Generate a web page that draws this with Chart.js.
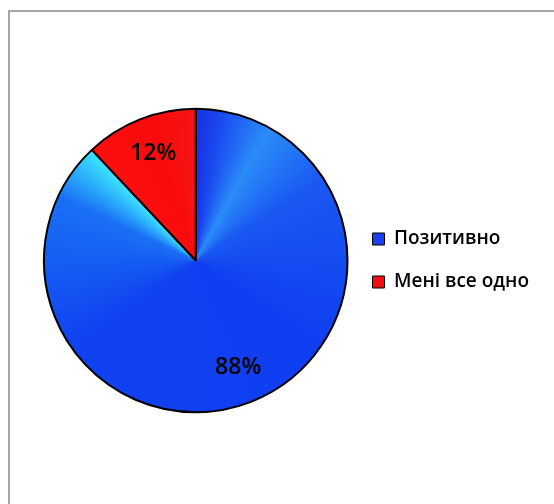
<!DOCTYPE html>
<html>
<head>
    <meta charset="UTF-8">
    <title>Позитивно / Мені все одно</title>
    <script src="https://cdn.jsdelivr.net/npm/chart.js"></script>
    <style>
        html, body { margin: 0; padding: 0; background: #fff; }
        #wrap {
            position: relative;
            width: 554px;
            height: 504px;
        }
        #frame {
            position: absolute;
            left: 8px; top: 10px; right: 0; bottom: 0;
            border-top: 2px solid #a6a6a6;
            border-left: 2px solid #a6a6a6;
            pointer-events: none;
        }
    </style>
</head>
<body>
    <div id="wrap">
        <canvas id="pie" width="554" height="504"></canvas>
        <div id="frame"></div>
    </div>

    <script>
        const labels = ["Позитивно", "Мені все одно"];
        const values = [88, 12];
        const percentLabels = ["88%", "12%"];
        const legendColors = ["#1a3ef0", "#f01010"];

        // заливка секторов с переходом цвета, как в Excel
        function sliceFill(context) {
            const chart = context.chart;
            const area = chart.chartArea;
            if (!area) return legendColors[context.dataIndex];
            const cx = (area.left + area.right) / 2;
            const cy = (area.top + area.bottom) / 2;
            const g = chart.ctx.createConicGradient(-Math.PI / 2, cx, cy);
            if (context.dataIndex === 0) {
                g.addColorStop(0.00, "#1830e6");
                g.addColorStop(0.03, "#1a4cf0");
                g.addColorStop(0.08, "#2a8cf8");
                g.addColorStop(0.16, "#1a58f2");
                g.addColorStop(0.35, "#0f3ef0");
                g.addColorStop(0.65, "#1042f0");
                g.addColorStop(0.82, "#1a70f5");
                g.addColorStop(0.875, "#38dcff");
                g.addColorStop(1.00, "#38dcff");
            } else {
                g.addColorStop(0.00, "#f51515");
                g.addColorStop(0.86, "#ff1010");
                g.addColorStop(0.95, "#fa0a0a");
                g.addColorStop(1.00, "#f51515");
            }
            return g;
        }

        const percentPlugin = {
            id: "percentLabels",
            afterDatasetsDraw(chart) {
                const ctx = chart.ctx;
                const meta = chart.getDatasetMeta(0);
                ctx.save();
                ctx.font = "600 23px 'Open Sans', sans-serif";
                ctx.fillStyle = "#000";
                ctx.textAlign = "center";
                ctx.textBaseline = "middle";
                meta.data.forEach((arc, i) => {
                    const p = arc.getProps(["x", "y", "startAngle", "endAngle", "outerRadius"], true);
                    const mid = (p.startAngle + p.endAngle) / 2;
                    const r = p.outerRadius * 0.76;
                    ctx.fillText(percentLabels[i], p.x + Math.cos(mid) * r, p.y + Math.sin(mid) * r);
                });
                ctx.restore();
            }
        };

        new Chart(document.getElementById("pie"), {
            type: "pie",
            data: {
                labels: labels,
                datasets: [{
                    data: values,
                    backgroundColor: sliceFill,
                    borderColor: "#000",
                    borderWidth: 2
                }]
            },
            options: {
                responsive: false,
                animation: false,
                layout: {
                    padding: { left: 43, top: 105, bottom: 88, right: 15 }
                },
                plugins: {
                    tooltip: { enabled: false },
                    legend: {
                        position: "right",
                        labels: {
                            boxWidth: 12,
                            boxHeight: 12,
                            padding: 24,
                            color: "#000",
                            font: { size: 19, weight: "600", family: "'Open Sans', sans-serif" },
                            generateLabels(chart) {
                                return labels.map((text, i) => ({
                                    text: text,
                                    fillStyle: legendColors[i],
                                    strokeStyle: "#000",
                                    lineWidth: 1,
                                    hidden: false,
                                    index: i
                                }));
                            }
                        }
                    }
                }
            },
            plugins: [percentPlugin]
        });
    </script>
</body>
</html>
